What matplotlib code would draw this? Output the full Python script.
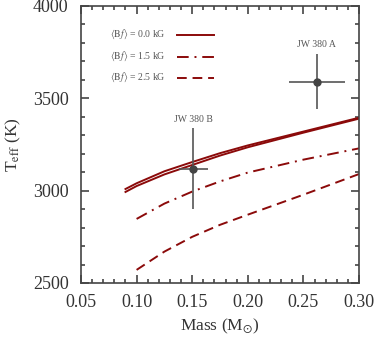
import matplotlib
matplotlib.use("Agg")
import matplotlib.pyplot as plt
from matplotlib.ticker import MultipleLocator

plt.rcParams['font.family'] = ['Liberation Serif', 'DejaVu Serif']
plt.rcParams['mathtext.fontset'] = 'stix'

mass_solid = [0.09, 0.10, 0.125, 0.15, 0.175, 0.20, 0.25, 0.30]
teff_b00_a = [3009, 3040, 3105, 3155, 3203, 3245, 3320, 3395]
teff_b00_b = [2993, 3025, 3088, 3139, 3190, 3235, 3314, 3390]
mass_mag = [0.10, 0.125, 0.15, 0.175, 0.20, 0.25, 0.30]
teff_b15 = [2847, 2930, 2995, 3050, 3098, 3168, 3229]
teff_b25 = [2571, 2670, 2750, 2815, 2870, 2978, 3090]

stars = ["JW 380 A", "JW 380 B"]
star_mass = [0.262, 0.151]
star_mass_err = [0.025, 0.013]
star_teff = [3590, 3120]
star_teff_err = [150, 218]

labels = [r"$\langle \mathrm{B}f\rangle$ = 0.0 kG",
          r"$\langle \mathrm{B}f\rangle$ = 1.5 kG",
          r"$\langle \mathrm{B}f\rangle$ = 2.5 kG"]

fig = plt.figure(figsize=(3.74, 3.39), dpi=100)
ax = fig.add_axes([81/374, 1-283/339, (359-81)/374, (283-6)/339])

c = '#8b0a0a'
ax.plot(mass_solid, teff_b00_a, color=c, lw=1.4, ls='-')
ax.plot(mass_solid, teff_b00_b, color=c, lw=1.4, ls='-')
ax.plot(mass_mag, teff_b15, color=c, lw=1.4, ls=(0, (6, 3, 1, 3)))
ax.plot(mass_mag, teff_b25, color=c, lw=1.4, ls=(0, (5, 3)))

# legend drawn manually in axes coordinates
legend_styles = ['-', (0, (6, 3, 1, 3)), (0, (5, 3))]
ys = [1-(34.5-6)/277, 1-(56.5-6)/277, 1-(77.7-6)/277]
for lab, st, yy in zip(labels, legend_styles, ys):
    ax.text((166-81)/278, yy, lab, transform=ax.transAxes, ha='right', va='center',
            fontsize=7, color='#555555')
    ax.plot([(177-81)/278, (214-81)/278], [yy, yy], transform=ax.transAxes,
            color=c, lw=1.4, ls=st)

for name, m, me, t, te in zip(stars, star_mass, star_mass_err, star_teff, star_teff_err):
    ax.errorbar(m, t, xerr=me, yerr=te, fmt='o', color='#555555', ms=5,
                mfc='#444444', mec='#444444', elinewidth=1.2, capsize=0)
    ax.text(m, t + te + 25, name, ha='center', va='bottom', fontsize=7, color='#555555')

ax.set_xlim(0.05, 0.30)
ax.set_ylim(2500, 4000)
ax.xaxis.set_major_locator(MultipleLocator(0.05))
ax.xaxis.set_minor_locator(MultipleLocator(0.01))
ax.yaxis.set_major_locator(MultipleLocator(500))
ax.yaxis.set_minor_locator(MultipleLocator(100))
ax.set_xticks([0.05, 0.10, 0.15, 0.20, 0.25, 0.30])
ax.set_xticklabels(['0.05', '0.10', '0.15', '0.20', '0.25', '0.30'])
ax.tick_params(which='both', direction='in', top=True, right=True, colors='#444444',
               labelcolor='#333333', labelsize=13, width=1.2)
ax.tick_params(which='major', length=6)
ax.tick_params(axis='x', which='major', pad=8)
ax.tick_params(axis='y', which='major', pad=9)
ax.tick_params(which='minor', length=3)
for s in ax.spines.values():
    s.set_color('#444444')
    s.set_linewidth(1.2)

ax.set_xlabel(r"Mass (M$_{\odot}$)", fontsize=12.5, color='#333333', labelpad=4)
ax.set_ylabel(r"T$_{\rm eff}$ (K)", fontsize=12.5, color='#333333', labelpad=7)

fig.savefig("out.png", dpi=100)
